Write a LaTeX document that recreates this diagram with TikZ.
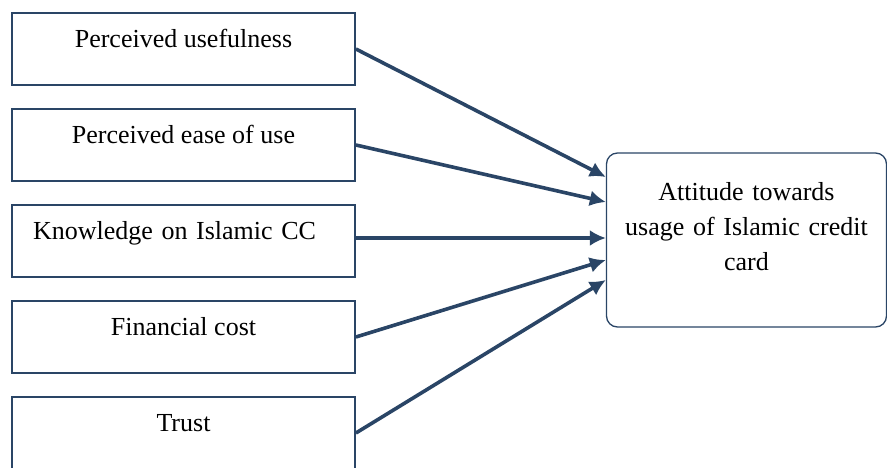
\documentclass[tikz,border=0pt]{standalone}
\usepackage{fontspec}
\setmainfont{Liberation Serif}
\usepackage{tikz}
\usetikzlibrary{arrows.meta,positioning}
\definecolor{framec}{HTML}{2A4566}

\begin{document}
\begin{tikzpicture}[
            x = 1pt, y = 1pt,
            > = {Latex[length=16pt,width=16pt]}, % arrow head style
            node distance = 96pt, % distance between factor boxes
            font = \fontsize{26}{35}\selectfont
        ]

        \tikzstyle{factor}=[
            draw = framec,
            line width = 1.8pt,
            fill = white,
            minimum width = 343pt,
            inner ysep = 0pt,
            text height = 34pt,
            text depth = 38pt
        ]
        \tikzstyle{attitude}=[
            draw = framec,
            line width = 1.3pt,
            rounded corners = 11pt,
            minimum width = 280pt,
            minimum height = 174pt,
            inner ysep = 0pt,
            text height = 47.5pt,
            text depth = 126.5pt,
            text width = 260pt,
            align = center
        ]
        \tikzstyle{link}=[->, draw = framec, line width = 3.6pt]

        \useasboundingbox (0,0) rectangle (887,-467);

        \node[factor] (pu) at (183.5,-49) {Perceived usefulness};
        \node[factor] (peou) [below of=pu] {Perceived ease of use};
        \node[factor, align=left, text width=301pt, inner xsep=21pt] (know) [below of=peou] {Knowledge on Islamic CC};
        \node[factor] (cost) [below of=know] {Financial cost};
        \node[factor] (trust) [below of=cost] {Trust};

        \node[attitude] (att) at (746.5,-240) {Attitude towards\\usage of Islamic credit\\card};

        \draw[link] (pu.east) -- ([yshift=63pt]att.west);
        \draw[link] (peou.east) -- ([yshift=38pt]att.west);
        \draw[link] ([yshift=3pt]know.east) -- ([yshift=2pt]att.west);
        \draw[link] (cost.east) -- ([yshift=-20pt]att.west);
        \draw[link] (trust.east) -- ([yshift=-40pt]att.west);

    \end{tikzpicture}
\end{document}
